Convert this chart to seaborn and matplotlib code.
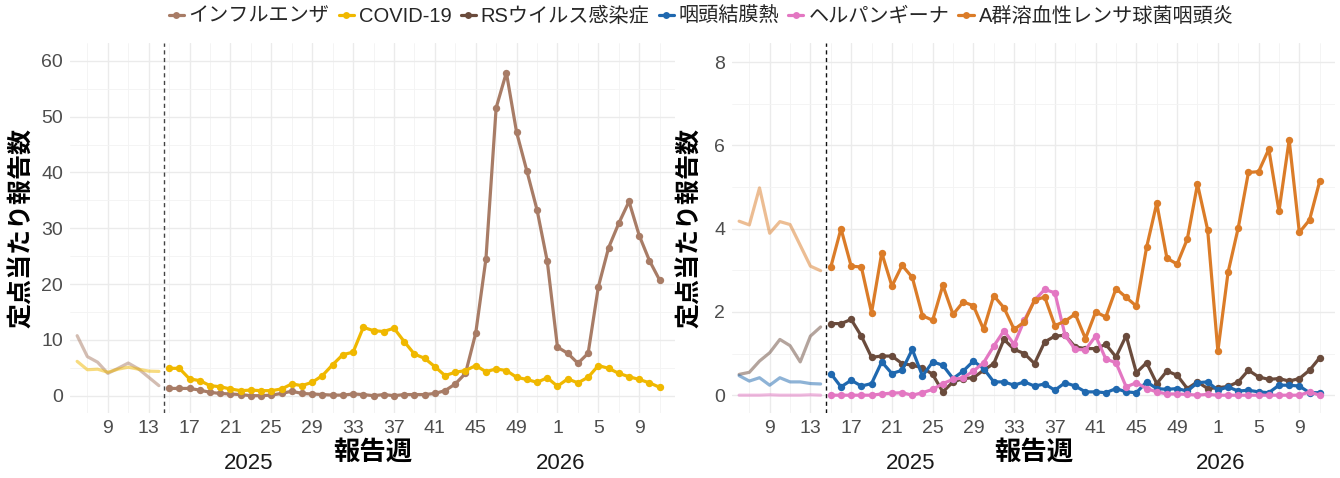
import matplotlib
matplotlib.use("Agg")
import matplotlib.pyplot as plt
from matplotlib.lines import Line2D
from matplotlib.ticker import FixedLocator
import pandas as pd
import seaborn as sns

# ---- data -------------------------------------------------------------
# x axis: 2025 weeks as-is, 2026 weeks shifted by 52 (2025 has 52 ISO weeks)
prev_weeks = list(range(6, 15))     # earlier weeks, drawn faded
cur_weeks = list(range(15, 64))     # 2025 w15 .. 2026 w11
tick_weeks = list(range(9, 62, 4))
tick_labels = [str(w if w <= 52 else w - 52) for w in tick_weeks]
year_labels = ["2025", "2026"]
year_pos = [22.8, 53.3]

diseases = ["インフルエンザ", "COVID-19", "RSウイルス感染症",
            "咽頭結膜熱", "ヘルパンギーナ", "A群溶血性レンサ球菌咽頭炎"]
colors = ["#A87C66", "#F0B800", "#6A4B3C", "#1F68AF", "#E377C2", "#DB7C28"]

flu_prev = [10.75, 7.0, 6.0, 4.0, 4.9, 5.85, 4.8, 3.3, 1.8]
flu_cur = [1.3, 1.3, 1.3, 1.0, 0.6, 0.4, 0.3, 0.2, 0.0, 0.0, 0.1, 0.4, 0.8,
           0.4, 0.3, 0.2, 0.1, 0.1, 0.3,
           0.2, 0.0, 0.2, 0.0, 0.2, 0.2, 0.2, 0.4, 0.9, 2.1, 4.0, 11.2, 24.5,
           51.6, 57.9, 47.2, 40.3, 33.3, 24.1, 8.7, 7.6, 5.8, 7.6, 19.5, 26.5,
           30.9, 34.8, 28.7, 24.2, 20.7]

covid_prev = [6.15, 4.65, 4.75, 4.2, 4.75, 5.1, 4.75, 4.4, 4.35]
covid_cur = [4.9, 4.9, 3.0, 2.7, 1.8, 1.6, 1.2, 0.9, 1.0, 0.9, 0.9, 1.2, 2.1,
             1.8, 2.4, 3.6, 5.55, 7.35, 7.8, 12.25, 11.65,
             11.5, 12.1, 9.7, 7.45, 6.7, 5.2, 3.6, 4.2, 4.5, 5.4, 4.3, 4.8,
             4.5, 3.3, 2.9, 2.4, 3.2, 1.7, 3.0, 2.3, 3.3, 5.4, 4.9, 4.0, 3.4,
             2.9, 2.3, 1.5]

rsv_prev = [0.5, 0.55, 0.82, 1.02, 1.34, 1.19, 0.8, 1.42, 1.64]
rsv_cur = [1.72, 1.72, 1.82, 1.42, 0.91, 0.94, 0.94, 0.76, 0.72, 0.66, 0.5,
           0.08, 0.32, 0.4, 0.42, 0.6, 0.76, 1.34, 1.1, 1.0,
           0.76, 1.28, 1.42, 1.44, 1.16, 1.12, 1.12, 1.22, 0.92, 1.43, 0.54,
           0.78, 0.28, 0.58, 0.48, 0.16, 0.32, 0.16, 0.18, 0.21, 0.32, 0.6,
           0.44, 0.38, 0.4, 0.34, 0.4, 0.6, 0.9]

pcf_prev = [0.47, 0.34, 0.42, 0.24, 0.42, 0.32, 0.32, 0.28, 0.27]
pcf_cur = [0.52, 0.2, 0.36, 0.22, 0.28, 0.8, 0.52, 0.6, 1.1, 0.46, 0.8, 0.72,
           0.4, 0.58, 0.82, 0.64, 0.32, 0.32, 0.24, 0.32,
           0.22, 0.27, 0.12, 0.3, 0.22, 0.08, 0.08, 0.06, 0.16, 0.08, 0.06,
           0.32, 0.16, 0.14, 0.16, 0.1, 0.3, 0.32, 0.12, 0.2, 0.1, 0.12, 0.08,
           0.06, 0.24, 0.24, 0.22, 0.06, 0.06]

herp_prev = [0.0, 0.0, 0.0, 0.01, 0.0, 0.0, 0.0, 0.01, 0.0]
herp_cur = [0.0, 0.0, 0.0, 0.0, 0.0, 0.03, 0.05, 0.06, 0.0, 0.06, 0.14, 0.28,
            0.38, 0.42, 0.58, 0.78, 1.18, 1.55, 1.22, 1.8,
            2.28, 2.54, 2.46, 1.44, 1.1, 1.09, 1.42, 0.87, 0.78, 0.2, 0.3,
            0.16, 0.08, 0.03, 0.03, 0.02, 0.0, 0.02, 0.0, 0.0, 0.0, 0.0, 0.0,
            0.0, 0.0, 0.0, 0.0, 0.08, 0.0]

gas_prev = [4.18, 4.09, 4.98, 3.89, 4.17, 4.1, 3.6, 3.1, 2.99]
gas_cur = [3.08, 4.0, 3.1, 3.08, 1.98, 3.42, 2.62, 3.12, 2.83, 1.91, 1.8,
           2.64, 1.94, 2.24, 2.15, 1.58, 2.39, 2.1, 1.58, 1.76,
           2.28, 2.36, 1.67, 1.78, 1.95, 1.36, 2.0, 1.88, 2.56, 2.35, 2.14,
           3.55, 4.61, 3.29, 3.15, 3.75, 5.07, 3.97, 1.06, 2.95, 4.02, 5.35,
           5.37, 5.91, 4.42, 6.13, 3.91, 4.21, 5.14]

prev_series = [flu_prev, covid_prev, rsv_prev, pcf_prev, herp_prev, gas_prev]
cur_series = [flu_cur, covid_cur, rsv_cur, pcf_cur, herp_cur, gas_cur]


def long_frame(weeks, series, names):
    rows = []
    for name, vals in zip(names, series):
        for w, v in zip(weeks, vals):
            rows.append({"week": w, "value": v, "disease": name})
    return pd.DataFrame(rows)


palette = dict(zip(diseases, colors))

# ---- style --------------------------------------------------------------
sns.set_theme(style="white")
plt.rcParams["font.family"] = ["Liberation Sans", "Noto Sans CJK JP"]
plt.rcParams["axes.unicode_minus"] = False

fig = plt.figure(figsize=(13.4, 4.78), dpi=100)
ax_l = fig.add_axes([70 / 1340, 1 - 412.7 / 478, 605 / 1340, 369.7 / 478])
ax_r = fig.add_axes([732 / 1340, 1 - 412.7 / 478, 603 / 1340, 369.7 / 478])

panels = [
    (ax_l, [0, 1], (-3.05, 63.2), list(range(0, 61, 10)), list(range(5, 60, 10)),
     -0.079, "#444444"),
    (ax_r, [2, 3, 4, 5], (-0.42, 8.46), list(range(0, 9, 2)), [1, 3, 5, 7],
     -0.07, "#111111"),
]

jp = ["Noto Sans CJK JP"]

for ax, idx, ylim, ymaj, ymin, ylab_x, vcol in panels:
    names = [diseases[i] for i in idx]
    df_prev = long_frame(prev_weeks, [prev_series[i] for i in idx], names)
    df_cur = long_frame(cur_weeks, [cur_series[i] for i in idx], names)

    sns.lineplot(data=df_prev, x="week", y="value", hue="disease",
                 hue_order=names, palette=palette, linewidth=2.3, alpha=0.5,
                 legend=False, ax=ax)
    sns.lineplot(data=df_cur, x="week", y="value", hue="disease",
                 hue_order=names, palette=palette, linewidth=2.3,
                 marker="o", markersize=5.3, markeredgewidth=0,
                 legend=False, ax=ax)

    # boundary between the earlier weeks and the reporting period
    ax.axvline(14.5, color=vcol, linewidth=1.0, linestyle=(0, (3, 2.5)),
               zorder=5)

    ax.set_xlim(5.3, 64.5)
    ax.set_ylim(*ylim)
    ax.xaxis.set_major_locator(FixedLocator(tick_weeks))
    ax.xaxis.set_minor_locator(FixedLocator(list(range(7, 64, 4))))
    ax.set_xticklabels(tick_labels)
    ax.yaxis.set_major_locator(FixedLocator(ymaj))
    ax.yaxis.set_minor_locator(FixedLocator(ymin))

    ax.grid(which="major", color="#EBEBEB", linewidth=1.0)
    ax.grid(which="minor", color="#F3F3F3", linewidth=0.6)
    ax.set_axisbelow(True)
    for s in ax.spines.values():
        s.set_visible(False)
    ax.tick_params(axis="both", which="both", length=0, labelsize=14,
                   labelcolor="#4D4D4D")
    ax.tick_params(axis="x", pad=5)
    ax.tick_params(axis="y", pad=5)

    ax.set_xlabel("報告週", fontsize=19, fontweight="bold", family=jp,
                  color="black", va="center")
    ax.xaxis.set_label_coords(0.5, -0.106)
    ax.set_ylabel("定点当たり報告数", fontsize=18, fontweight="bold",
                  family=jp, color="black", va="center")
    ax.yaxis.set_label_coords(ylab_x, 0.5)

    for lab, pos in zip(year_labels, year_pos):
        ax.text(pos, -0.137, lab, transform=ax.get_xaxis_transform(),
                ha="center", va="center", fontsize=16, color="#1A1A1A")

handles = [Line2D([0], [0], color=c, marker="o", markersize=5,
                  markeredgewidth=0, linewidth=2.3) for c in colors]
fig.legend(handles, diseases, loc="center", bbox_to_anchor=(701 / 1340, 1 - 16 / 478),
           ncol=6, frameon=False, fontsize=14.5, handlelength=0.75,
           handletextpad=0.25, columnspacing=0.45, borderaxespad=0)

fig.savefig("out.png", dpi=100)
